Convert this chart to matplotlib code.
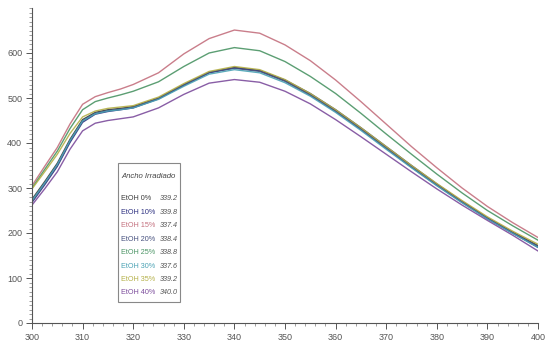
import matplotlib
matplotlib.use("Agg")
import matplotlib.pyplot as plt
from matplotlib.patches import Rectangle
from matplotlib.ticker import MultipleLocator

wavelength = [300, 302.5, 305, 307.5, 310, 312.5, 315, 317.5, 320, 325, 330,
              335, 340, 345, 350, 355, 360, 365, 370, 375, 380, 385, 390,
              395, 400]

etoh_0 = [275, 314, 355, 408, 452, 468, 474, 477, 481, 500, 530,
          557, 568, 561, 539, 508, 472, 432, 390, 348, 308, 270, 234,
          202, 172]
etoh_10 = [268, 307, 348, 401, 446, 464, 470, 474, 478, 498, 528,
           556, 567, 561, 540, 510, 474, 434, 392, 350, 309, 270, 233,
           200, 168]
etoh_15 = [305, 348, 390, 442, 486, 503, 512, 520, 530, 556, 598,
           632, 651, 644, 618, 583, 540, 492, 442, 392, 345, 300, 259,
           223, 190]
etoh_20 = [270, 310, 351, 404, 449, 466, 472, 475, 479, 499, 529,
           557, 566, 559, 537, 506, 470, 430, 388, 346, 306, 268, 232,
           200, 170]
etoh_25 = [300, 341, 382, 432, 474, 492, 500, 507, 515, 536, 570,
           600, 612, 605, 581, 548, 510, 466, 420, 375, 331, 289, 250,
           216, 184]
etoh_30 = [272, 311, 352, 405, 449, 465, 471, 474, 478, 497, 526,
           553, 563, 556, 534, 504, 468, 428, 386, 345, 305, 267, 231,
           199, 168]
etoh_35 = [298, 336, 375, 421, 458, 471, 477, 480, 483, 502, 532,
           559, 570, 563, 541, 510, 474, 434, 392, 350, 310, 272, 236,
           204, 175]
etoh_40 = [262, 298, 336, 386, 427, 444, 450, 454, 458, 478, 508,
           533, 541, 535, 515, 487, 452, 414, 375, 336, 298, 262, 228,
           195, 160]

series_names = ["EtOH 0%", "EtOH 10%", "EtOH 15%", "EtOH 20%",
                "EtOH 25%", "EtOH 30%", "EtOH 35%", "EtOH 40%"]
series_values = [etoh_0, etoh_10, etoh_15, etoh_20,
                 etoh_25, etoh_30, etoh_35, etoh_40]
peak_labels = ["339.2", "339.8", "337.4", "338.4",
               "338.8", "337.6", "339.2", "340.0"]
legend_title = "Ancho Irradiado"

colors = ["#3a3a3a", "#2c2f80", "#c4707e", "#46507e",
          "#4a9464", "#4aa2b4", "#b4b048", "#7c4c9c"]

W, H = 549, 347
fig = plt.figure(figsize=(W / 100, H / 100), dpi=100)
fig.patch.set_facecolor("white")

left_px, right_px, top_px, bottom_px = 32, 538, 8, 323
ax = fig.add_axes([left_px / W, 1 - bottom_px / H,
                   (right_px - left_px) / W, (bottom_px - top_px) / H])

for vals, c in zip(series_values, colors):
    ax.plot(wavelength, vals, color=c, lw=1.0, alpha=0.9)

ax.set_xlim(300, 400)
ax.set_ylim(0, 700)
ax.spines["top"].set_visible(False)
ax.spines["right"].set_visible(False)
for s in ("left", "bottom"):
    ax.spines[s].set_color("#555555")
    ax.spines[s].set_linewidth(0.8)

ax.xaxis.set_major_locator(MultipleLocator(10))
ax.xaxis.set_minor_locator(MultipleLocator(2))
ax.yaxis.set_major_locator(MultipleLocator(100))
ax.yaxis.set_minor_locator(MultipleLocator(10))
ax.set_yticks(range(0, 700, 100))
ax.tick_params(axis="both", which="major", length=4, width=0.7,
               color="#555555", labelsize=6.5, labelcolor="#555555", pad=3)
ax.tick_params(axis="both", which="minor", length=2, width=0.5,
               color="#777777")

font = ["Liberation Sans", "DejaVu Sans"]
for lab in ax.get_xticklabels() + ax.get_yticklabels():
    lab.set_family(font)

# legend box drawn in figure pixels
def fx(px):
    return px / W

def fy(py):
    return 1 - py / H

box = Rectangle((fx(118), fy(302)), fx(180) - fx(118), fy(163) - fy(302),
                transform=fig.transFigure, facecolor="white",
                edgecolor="#888888", lw=0.8, zorder=5)
fig.patches.append(box)
fig.text(fx(121), fy(177), legend_title, fontsize=5.6, color="#444444",
         family=font, style="italic", va="center", ha="left", zorder=6)
for i, (name, val, c) in enumerate(zip(series_names, peak_labels, colors)):
    y = fy(199 + i * 13.4)
    fig.text(fx(121), y, name, fontsize=5.2, color=c, family=font,
             va="center", ha="left", zorder=6)
    fig.text(fx(160), y, val, fontsize=5.2, color="#555555", family=font,
             style="italic", va="center", ha="left", zorder=6)

fig.savefig("out.png", dpi=100, facecolor="white")
